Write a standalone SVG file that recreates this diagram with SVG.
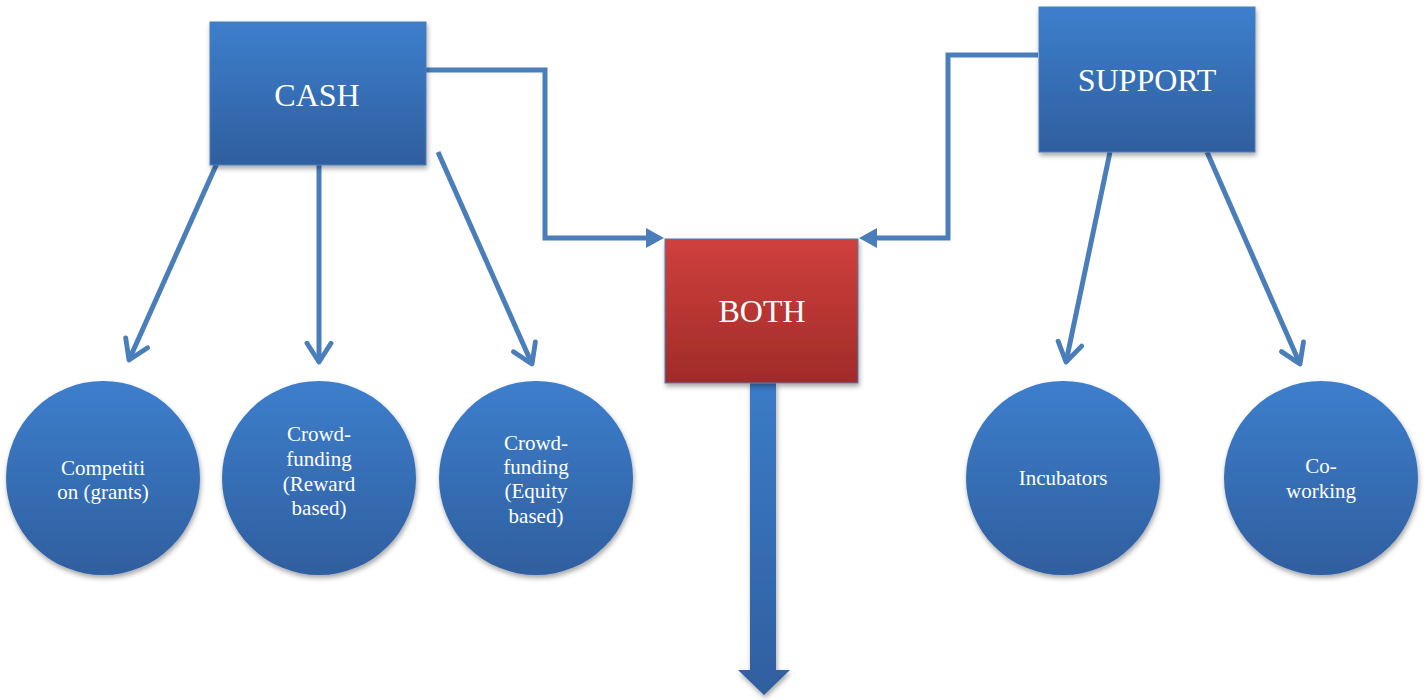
<svg xmlns="http://www.w3.org/2000/svg" width="1427" height="700" viewBox="0 0 1427 700">
<defs>
<linearGradient id="gb" x1="0" y1="0" x2="0" y2="1"><stop offset="0" stop-color="#3d7ecc"/><stop offset="1" stop-color="#2f5f9f"/></linearGradient>
<linearGradient id="gr" x1="0" y1="0" x2="0" y2="1"><stop offset="0" stop-color="#d0403d"/><stop offset="1" stop-color="#a02b29"/></linearGradient>
<linearGradient id="ga" x1="0" y1="0" x2="0" y2="1"><stop offset="0" stop-color="#3b7bc8"/><stop offset="1" stop-color="#2f5f9f"/></linearGradient>
<filter id="sh" x="-10%" y="-10%" width="125%" height="125%"><feDropShadow dx="1" dy="3" stdDeviation="2.5" flood-color="#000" flood-opacity="0.35"/></filter>
<marker id="chev" markerWidth="6" markerHeight="6" viewBox="0 0 8 8" refX="6" refY="4" orient="auto" markerUnits="strokeWidth"><path d="M1,0.8 L6,4 L1,7.2" fill="none" stroke="#4a7ebb" stroke-width="1.3" stroke-linecap="round" stroke-linejoin="round"/></marker>
</defs>
<style>
.box{stroke:#4a7ebb;stroke-width:1;filter:url(#sh)}
.circ{fill:url(#gb);filter:url(#sh)}
.big{font-family:"Liberation Serif","Times New Roman",serif;font-size:32px;fill:#fff;text-anchor:middle}
.sm{font-family:"Liberation Serif","Times New Roman",serif;font-size:21px;fill:#fff;text-anchor:middle}
.ln{fill:none;stroke:#4a7ebb;stroke-width:5}
</style>
<g id="connectors">
<line class="ln" x1="222" y1="152" x2="129" y2="360" marker-end="url(#chev)"/>
<line class="ln" x1="319" y1="152" x2="319" y2="362" marker-end="url(#chev)"/>
<line class="ln" x1="438" y1="152" x2="532" y2="364" marker-end="url(#chev)"/>
<line class="ln" x1="1110" y1="152" x2="1066" y2="362" marker-end="url(#chev)"/>
<line class="ln" x1="1207" y1="152" x2="1300" y2="364" marker-end="url(#chev)"/>
<polyline class="ln" points="426,70 545,70 545,238 656,238" stroke-linejoin="miter"/>
<path d="M646,228 L664,238 L646,248 Z" fill="#4a7ebb"/>
<polyline class="ln" points="1038,55 948,55 948,238 867,238"/>
<path d="M877,228 L859,238 L877,248 Z" fill="#4a7ebb"/>
<path d="M750,383 L776,383 L776,670 L790,670 L764,695 L738,670 L750,670 Z" fill="url(#ga)" filter="url(#sh)"/>
</g>
<g id="cash">
<rect class="box" x="210" y="22" width="216" height="143" fill="url(#gb)"/>
<text class="big" x="317" y="106">CASH</text>
</g>
<g id="support">
<rect class="box" x="1039" y="7" width="216" height="145" fill="url(#gb)"/>
<text class="big" x="1147" y="91">SUPPORT</text>
</g>
<g id="both">
<rect class="box" x="665" y="239" width="193" height="144" fill="url(#gr)" stroke="#c0504d"/>
<text class="big" x="762" y="322">BOTH</text>
</g>
<g id="competition">
<circle class="circ" cx="103" cy="478" r="97"/>
<text class="sm" x="103" y="475">Competiti</text>
<text class="sm" x="103" y="499">on (grants)</text>
</g>
<g id="reward">
<circle class="circ" cx="319" cy="478" r="97"/>
<text class="sm" x="319" y="441">Crowd-</text>
<text class="sm" x="319" y="466">funding</text>
<text class="sm" x="319" y="491">(Reward</text>
<text class="sm" x="319" y="515">based)</text>
</g>
<g id="equity">
<circle class="circ" cx="536" cy="478" r="97"/>
<text class="sm" x="536" y="450">Crowd-</text>
<text class="sm" x="536" y="474">funding</text>
<text class="sm" x="536" y="498">(Equity</text>
<text class="sm" x="536" y="523">based)</text>
</g>
<g id="incubators">
<circle class="circ" cx="1063" cy="478" r="97"/>
<text class="sm" x="1063" y="485">Incubators</text>
</g>
<g id="coworking">
<circle class="circ" cx="1321" cy="478" r="97"/>
<text class="sm" x="1321" y="473">Co-</text>
<text class="sm" x="1321" y="498">working</text>
</g>
</svg>
